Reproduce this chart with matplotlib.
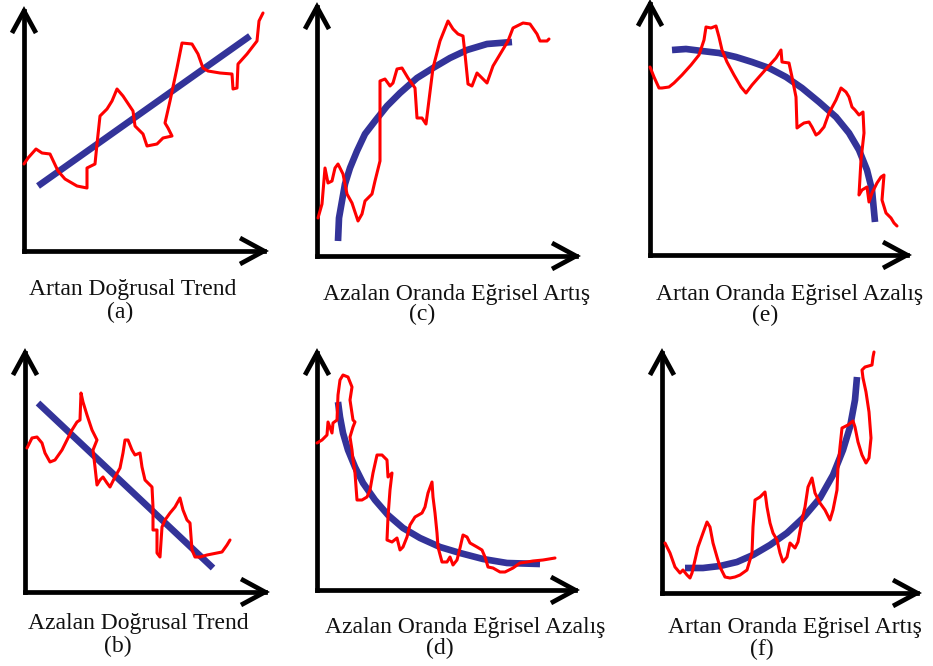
import matplotlib
matplotlib.use("Agg")
import matplotlib.pyplot as plt

# values, local units (px from each panel's axis corner)
a_red_x = [0, 4, 12, 18, 26, 34, 41, 53, 63, 63, 71, 73, 76, 83, 88, 93, 99, 109, 111, 119, 123,
           133, 139, 148, 144, 141, 146, 153, 158, 168, 174, 179, 184, 196, 208, 209, 213, 214,
           223, 233, 235, 239]
a_red_y = [87, 93, 102, 98, 97, 80, 72, 65, 63, 83, 87, 107, 135, 142, 150, 162, 155, 140, 125, 117,
           105, 107, 113, 115, 123, 128, 150, 183, 208, 207, 197, 183, 180, 178, 177, 162, 163, 187,
           197, 210, 230, 238]
a_blue_x = [14, 226]
a_blue_y = [65, 215]

b_red_x = [2, 7, 12, 17, 20, 25, 30, 37, 42, 47, 52, 55, 56, 58, 62, 67, 72, 68, 70, 72, 75, 78, 82,
           85, 90, 95, 98, 100, 103, 107, 110, 115, 117, 120, 127, 128, 128, 132, 132, 135, 137, 140,
           145, 150, 155, 158, 162, 165, 167, 170, 175, 182, 192, 197, 202, 205]
b_red_y = [144, 154, 155, 149, 139, 130, 132, 142, 152, 162, 170, 172, 199, 190, 177, 162, 152, 142,
           125, 107, 112, 115, 109, 105, 115, 124, 139, 152, 152, 142, 137, 139, 125, 112, 105, 85,
           62, 62, 39, 35, 65, 72, 79, 85, 94, 82, 72, 69, 42, 35, 35, 37, 39, 40, 47, 52]
b_blue_x = [13, 188]
b_blue_y = [189, 24]

c_red_x = [1, 5, 8, 11, 15, 18, 21, 26, 30, 35, 41, 45, 48, 55, 58, 63, 63, 68, 73, 76, 80, 85, 91,
           98, 100, 105, 109, 111, 116, 123, 131, 136, 141, 146, 148, 151, 155, 160, 165, 170, 176,
           185, 191, 196, 206, 213, 220, 223, 230, 232]
c_red_y = [38, 52, 88, 73, 75, 88, 92, 82, 62, 53, 35, 42, 55, 62, 75, 95, 175, 177, 170, 173, 187,
           188, 178, 168, 138, 138, 132, 148, 188, 215, 235, 227, 222, 220, 202, 172, 170, 183, 178,
           173, 190, 205, 215, 228, 233, 232, 222, 215, 215, 217]
c_blue_x = [21, 22, 25, 28, 33, 40, 48, 58, 70, 83, 100, 116, 133, 150, 170, 195]
c_blue_y = [15, 38, 55, 72, 88, 105, 122, 135, 150, 163, 178, 188, 198, 206, 212, 214]

d_red_x = [0, 5, 10, 11, 15, 16, 20, 21, 23, 26, 31, 35, 33, 36, 38, 36, 33, 35, 36, 38, 40, 45, 50,
           53, 56, 60, 65, 70, 71, 75, 73, 71, 70, 75, 80, 83, 86, 90, 93, 98, 105, 108, 111, 115,
           116, 118, 120, 121, 125, 130, 133, 136, 140, 143, 146, 150, 153, 160, 165, 168, 171, 176,
           183, 188, 196, 203, 210, 216, 226, 238]
d_red_y = [147, 150, 155, 168, 157, 167, 170, 195, 210, 215, 213, 203, 190, 170, 168, 163, 153, 140,
           130, 117, 90, 90, 93, 100, 117, 135, 135, 130, 113, 117, 100, 73, 50, 48, 52, 40, 43, 53,
           65, 73, 77, 83, 97, 108, 93, 77, 57, 43, 28, 28, 33, 25, 30, 42, 55, 53, 47, 43, 40, 33,
           23, 22, 18, 18, 22, 27, 28, 29, 30, 32]
d_blue_x = [21, 23, 26, 31, 38, 46, 58, 71, 86, 103, 123, 143, 166, 190, 223]
d_blue_y = [188, 173, 157, 140, 123, 107, 90, 75, 62, 52, 43, 37, 31, 27, 26]

e_red_x = [0, 4, 9, 12, 19, 24, 32, 41, 49, 54, 56, 61, 66, 69, 72, 77, 84, 91, 96, 102, 109, 117,
           126, 131, 132, 139, 142, 144, 146, 147, 151, 154, 159, 162, 166, 169, 174, 179, 186, 191,
           196, 199, 202, 205, 209, 213, 214, 211, 209, 212, 217, 219, 222, 227, 231, 234, 232, 236,
           241, 244, 247]
e_red_y = [188, 178, 167, 167, 168, 172, 180, 190, 200, 215, 228, 227, 229, 218, 205, 193, 180, 168,
           162, 170, 178, 187, 197, 205, 193, 192, 178, 168, 158, 127, 130, 132, 133, 128, 120, 122,
           128, 142, 155, 167, 163, 158, 148, 145, 140, 143, 122, 95, 60, 65, 68, 53, 62, 72, 78, 80,
           55, 42, 37, 32, 29]
e_blue_x = [22, 36, 52, 69, 86, 102, 119, 136, 152, 169, 186, 199, 209, 217, 222, 225]
e_blue_y = [205, 206, 204, 202, 198, 193, 187, 178, 167, 153, 138, 122, 105, 85, 65, 33]

f_red_x = [3, 8, 13, 18, 21, 25, 28, 30, 33, 36, 41, 45, 48, 51, 55, 58, 63, 68, 73, 78, 85, 90, 91,
           93, 98, 103, 105, 108, 111, 115, 118, 121, 125, 128, 133, 136, 140, 143, 146, 150, 153,
           158, 163, 168, 171, 175, 176, 178, 180, 186, 191, 193, 196, 200, 204, 207, 209, 207, 204,
           201, 200, 203, 210, 211, 212]
f_red_y = [50, 40, 26, 20, 23, 18, 15, 20, 33, 46, 60, 71, 66, 50, 36, 26, 16, 15, 16, 18, 23, 40, 66,
           93, 96, 101, 86, 70, 60, 53, 40, 31, 36, 50, 45, 51, 73, 86, 106, 115, 100, 90, 83, 73,
           83, 103, 126, 146, 165, 168, 172, 166, 151, 138, 130, 135, 155, 181, 201, 215, 223, 226,
           228, 236, 241]
f_blue_x = [23, 41, 58, 75, 91, 108, 125, 141, 158, 171, 181, 188, 193, 195]
f_blue_y = [25, 25, 27, 31, 38, 48, 60, 75, 95, 118, 143, 166, 193, 216]

titles = ["Artan Doğrusal Trend", "Azalan Doğrusal Trend",
          "Azalan Oranda Eğrisel Artış", "Azalan Oranda Eğrisel Azalış",
          "Artan Oranda Eğrisel Azalış", "Artan Oranda Eğrisel Artış"]
tags = ["(a)", "(b)", "(c)", "(d)", "(e)", "(f)"]

FIG_W, FIG_H = 933, 666
RED = "#ff0000"
BLUE = "#333399"


def draw_panel(fig, origin, size, red, blue):
    """One small sketch: arrow axes, blue trend, red noisy series"""
    ox, oy = origin
    w, h = size
    ax = fig.add_axes([ox / FIG_W, 1 - oy / FIG_H, w / FIG_W, h / FIG_H])
    ax.set_xlim(0, w)
    ax.set_ylim(0, h)
    ax.axis("off")

    # axes with open arrow heads
    ax.plot([0, w], [0, 0], color="black", lw=3.4, clip_on=False, solid_capstyle="projecting")
    ax.plot([0, 0], [0, h], color="black", lw=3.4, clip_on=False, solid_capstyle="projecting")
    ax.plot([w - 24, w, w - 24], [13, 0, -13], color="black", lw=3.4, clip_on=False,
            solid_joinstyle="miter", solid_capstyle="butt")
    ax.plot([-12, 0, 12], [h - 22, h, h - 22], color="black", lw=3.4, clip_on=False,
            solid_joinstyle="miter", solid_capstyle="butt")

    ax.plot(blue[0], blue[1], color=BLUE, lw=4.8, clip_on=False,
            solid_capstyle="butt", solid_joinstyle="round")
    ax.plot(red[0], red[1], color=RED, lw=2.2, clip_on=False,
            solid_capstyle="round", solid_joinstyle="round")
    return ax


def label(fig, x, y, s):
    fig.text(x / FIG_W, 1 - y / FIG_H, s, ha="center", va="baseline",
             fontsize=17, family="Liberation Serif", color="#111111")


fig = plt.figure(figsize=(FIG_W / 100, FIG_H / 100), dpi=100)

draw_panel(fig, (24, 251), (240, 240), (a_red_x, a_red_y), (a_blue_x, a_blue_y))
draw_panel(fig, (25, 592), (240, 239), (b_red_x, b_red_y), (b_blue_x, b_blue_y))
draw_panel(fig, (317, 256), (259, 249), (c_red_x, c_red_y), (c_blue_x, c_blue_y))
draw_panel(fig, (317, 590), (258, 237), (d_red_x, d_red_y), (d_blue_x, d_blue_y))
draw_panel(fig, (650, 255), (257, 251), (e_red_x, e_red_y), (e_blue_x, e_blue_y))
draw_panel(fig, (662, 593), (255, 240), (f_red_x, f_red_y), (f_blue_x, f_blue_y))

label(fig, 133, 295, titles[0])
label(fig, 120, 318, tags[0])
label(fig, 138, 629, titles[1])
label(fig, 118, 652, tags[1])
label(fig, 457, 300, titles[2])
label(fig, 422, 320, tags[2])
label(fig, 465, 633, titles[3])
label(fig, 440, 654, tags[3])
label(fig, 790, 300, titles[4])
label(fig, 765, 321, tags[4])
label(fig, 795, 633, titles[5])
label(fig, 762, 655, tags[5])

fig.savefig("out.png", dpi=100)
